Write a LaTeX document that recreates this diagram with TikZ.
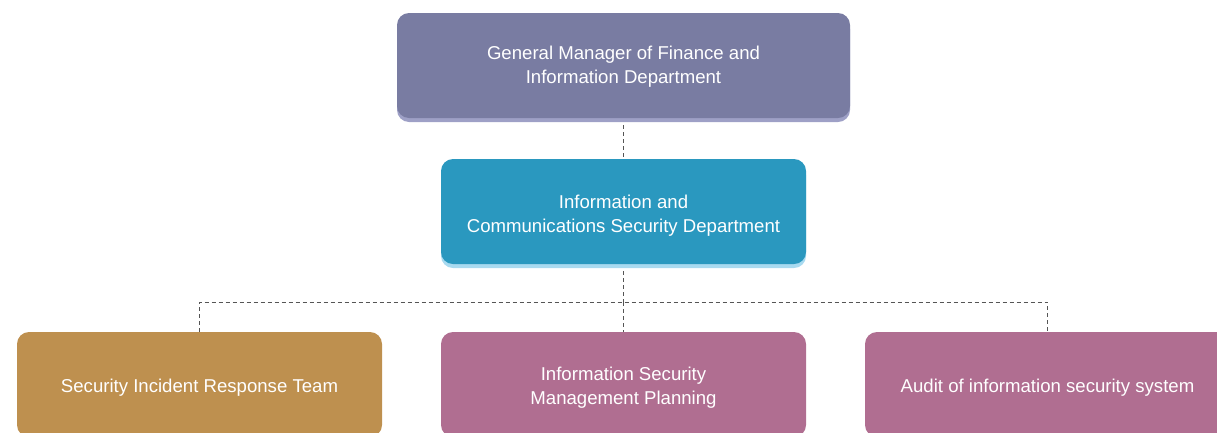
\documentclass[tikz,border=0pt]{standalone}
\usepackage{fontspec}
\setmainfont{Liberation Sans}
\usetikzlibrary{backgrounds}
\definecolor{topfill}{HTML}{797CA2}
\definecolor{topshadow}{HTML}{9EA0C6}
\definecolor{midfill}{HTML}{2A98BF}
\definecolor{midshadow}{HTML}{A8DAF0}
\definecolor{goldfill}{HTML}{BE904F}
\definecolor{plumfill}{HTML}{B06E91}
\definecolor{linegray}{HTML}{555555}
\tikzset{
  orgbox/.style={rounded corners=12pt, inner sep=0pt},
  boxtext/.style={text=white, align=center, inner sep=0pt,
    font=\fontsize{18.6}{24}\selectfont},
  link/.style={draw=linegray, dash pattern=on 4pt off 3pt, line width=0.9pt}
}
\begin{document}
\begin{tikzpicture}[x=1pt,y=-1pt]
\useasboundingbox (0,0) rectangle (1217,432);
\clip (0,0) rectangle (1217,432);
% shadows
\fill[topshadow, rounded corners=12pt] (397,17) rectangle (850,122);
\fill[midshadow, rounded corners=12pt] (441,163) rectangle (806,268);
% boxes
\node[orgbox, fill=topfill, minimum width=453pt, minimum height=105pt,
  label={[boxtext, yshift=-1pt]center:{General Manager of Finance and\\Information Department}}] (gm) at (623.5,65.5) {};
\node[orgbox, fill=midfill, minimum width=365pt, minimum height=105pt,
  label={[boxtext, yshift=-4pt]center:{Information and\\Communications Security Department}}] (ics) at (623.5,211.5) {};
\node[orgbox, fill=goldfill, minimum width=365pt, minimum height=105pt,
  label={[boxtext, yshift=-3pt]center:{Security Incident Response Team}}] (sirt) at (199.5,384.5) {};
\node[orgbox, fill=plumfill, minimum width=365pt, minimum height=105pt,
  label={[boxtext, yshift=-3pt]center:{Information Security\\Management Planning}}] (ismp) at (623.5,384.5) {};
\node[orgbox, fill=plumfill, minimum width=365pt, minimum height=105pt,
  label={[boxtext, yshift=-3pt]center:{Audit of information security system}}] (audit) at (1047.5,384.5) {};
% connectors
\coordinate (bus) at (623.5,302);
\begin{scope}[on background layer]
\draw[link] (gm.south) -- (ics.north);
\draw[link] (ics.south) -- (bus);
\draw[link] (sirt.north) |- (bus) -| (audit.north);
\draw[link] (bus) -- (ismp.north);
\end{scope}
\end{tikzpicture}
\end{document}
